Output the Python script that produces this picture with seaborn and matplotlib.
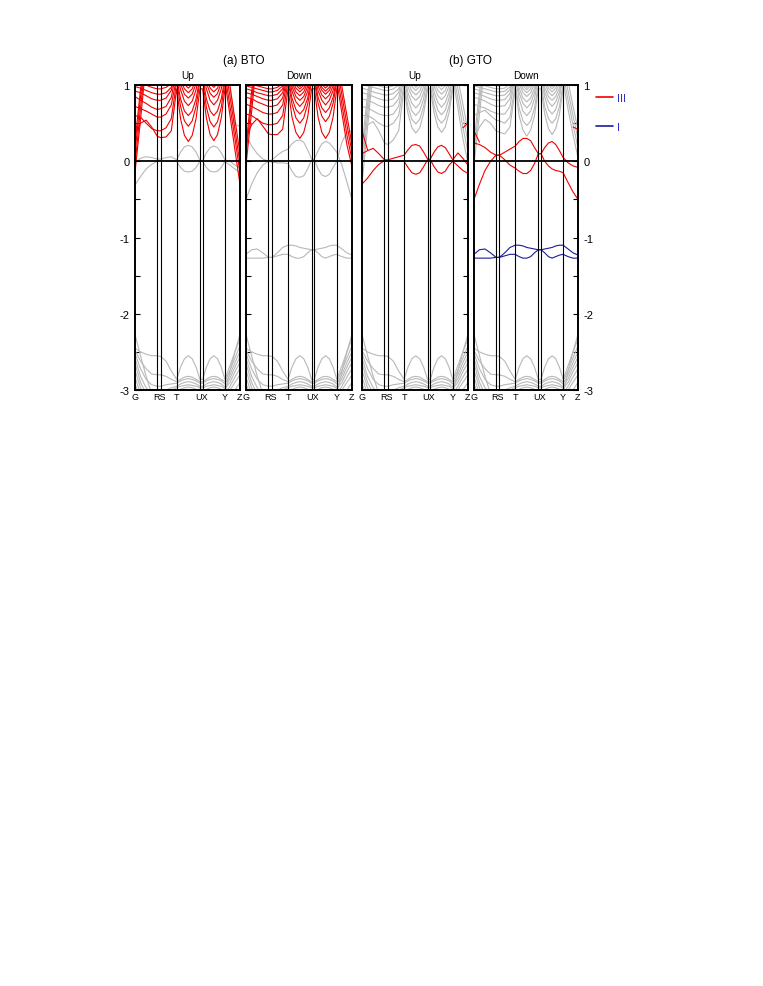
import numpy as np
import matplotlib
matplotlib.use('Agg')
import matplotlib.pyplot as plt
from matplotlib.lines import Line2D
import seaborn as sns

nan = np.nan

# k-path (fraction of path length) and high-symmetry points
k_path = [0.0, 0.053, 0.106, 0.159, 0.212, 0.245, 0.296, 0.346, 0.397,
          0.434, 0.471, 0.508, 0.545, 0.582, 0.619, 0.645, 0.680, 0.716,
          0.751, 0.786, 0.822, 0.857, 0.905, 0.952, 1.0]
k_sym = [0.212, 0.245, 0.397, 0.619, 0.645, 0.857]
k_tick_pos = [0.0, 0.229, 0.397, 0.632, 0.857, 1.0]
k_tick_lab = ['G', 'RS', 'T', 'UX', 'Y', 'Z']

# band energies (eV) at each k_path point
# order of a row: G-R(5) S S-T(2) T T-U(5) U X X-Y(5) Y Y-Z(2) Z

# (a) BTO spin up
bto_up_iii = [
    [-0.15, 0.55, 1.3, 1.4, 1.4, 1.4, 1.4, 1.4, 1.4, 1.4, 1.4, 1.4, 1.4, 1.4, 1.4, 1.4, 1.4, 1.4, 1.4, 1.4, 1.4, 1.05, 0.6, 0.15, -0.3],
    [-0.05, 0.7, 1.4, 1.4, 1.4, 1.4, 1.4, 1.4, 1.4, 1.4, 1.4, 1.4, 1.4, 1.4, 1.4, 1.4, 1.4, 1.4, 1.4, 1.4, 1.4, 1.15, 0.72, 0.3, -0.15],
    [0.1, 0.85, 1.4, 1.4, 1.4, 1.4, 1.4, 1.4, 1.4, 1.4, 1.4, 1.4, 1.4, 1.4, 1.4, 1.4, 1.4, 1.4, 1.4, 1.4, 1.4, 1.25, 0.85, 0.42, -0.03],
    [0.25, 0.95, 1.4, 1.4, 1.4, 1.4, 1.4, 1.4, 1.4, 1.4, 1.4, 1.4, 1.4, 1.4, 1.4, 1.4, 1.4, 1.4, 1.4, 1.4, 1.4, 1.35, 0.98, 0.55, 0.1],
    [0.35, 0.5, 0.54, 0.45, 0.33, 0.31, 0.32, 0.4, 0.95, 0.56, 0.34, 0.26, 0.34, 0.56, 0.95, 0.95, 0.57, 0.35, 0.27, 0.35, 0.57, 0.95, 1.2, 1.4, 1.4],
    [0.6, 0.58, 0.5, 0.43, 0.4, 0.4, 0.44, 0.56, 1.05, 0.72, 0.53, 0.46, 0.53, 0.72, 1.05, 1.05, 0.71, 0.52, 0.45, 0.52, 0.71, 1.05, 1.3, 1.4, 1.4],
    [0.72, 0.69, 0.66, 0.62, 0.58, 0.58, 0.62, 0.74, 1.1, 0.82, 0.66, 0.6, 0.66, 0.82, 1.1, 1.1, 0.82, 0.66, 0.6, 0.66, 0.82, 1.1, 1.4, 1.4, 1.4],
    [0.85, 0.8, 0.76, 0.71, 0.68, 0.69, 0.72, 0.84, 1.2, 0.94, 0.79, 0.73, 0.79, 0.94, 1.2, 1.2, 0.95, 0.8, 0.74, 0.8, 0.95, 1.2, 1.4, 1.4, 1.4],
    [0.92, 0.9, 0.86, 0.82, 0.8, 0.8, 0.83, 0.93, 1.25, 1.02, 0.88, 0.83, 0.88, 1.02, 1.25, 1.25, 1.03, 0.89, 0.84, 0.89, 1.03, 1.25, 1.4, 1.4, 1.4],
    [0.98, 0.96, 0.93, 0.9, 0.88, 0.88, 0.9, 0.97, 1.3, 1.08, 0.95, 0.9, 0.95, 1.08, 1.3, 1.3, 1.09, 0.96, 0.91, 0.96, 1.09, 1.3, 1.4, 1.4, 1.4],
    [1.05, 1.03, 1.0, 0.97, 0.95, 0.95, 0.97, 1.02, 1.35, 1.13, 1.01, 0.96, 1.01, 1.13, 1.35, 1.35, 1.14, 1.02, 0.97, 1.02, 1.14, 1.35, 1.4, 1.4, 1.4],
]
bto_up_gray = [
    [-0.02, 0.04, 0.06, 0.05, 0.03, 0.03, 0.05, 0.06, 0.02, 0.12, 0.19, 0.21, 0.19, 0.12, 0.01, 0.01, 0.11, 0.18, 0.2, 0.18, 0.11, 0.02, 0.0, -0.05, -0.08],
    [-0.31, -0.2, -0.1, -0.04, 0.0, 0.0, 0.0, 0.0, 0.0, -0.08, -0.13, -0.14, -0.13, -0.08, 0.0, 0.0, -0.08, -0.13, -0.14, -0.13, -0.08, 0.0, -0.05, -0.1, -0.15],
    [1.4, 1.4, 1.4, 1.4, 1.4, 1.4, 1.4, 1.4, 1.4, 1.4, 1.4, 1.4, 1.4, 1.4, 1.4, 1.4, 1.4, 1.4, 1.4, 1.4, 1.4, 1.4, 1.0, 0.48, 0.46],
]

# (a) BTO spin down
bto_dn_iii = [
    [-0.05, 0.65, 1.4, 1.4, 1.4, 1.4, 1.4, 1.4, 1.4, 1.4, 1.4, 1.4, 1.4, 1.4, 1.4, 1.4, 1.4, 1.4, 1.4, 1.4, 1.4, 1.05, 0.63, 0.22, -0.07],
    [0.08, 0.8, 1.4, 1.4, 1.4, 1.4, 1.4, 1.4, 1.4, 1.4, 1.4, 1.4, 1.4, 1.4, 1.4, 1.4, 1.4, 1.4, 1.4, 1.4, 1.4, 1.15, 0.75, 0.35, 0.02],
    [0.2, 0.92, 1.4, 1.4, 1.4, 1.4, 1.4, 1.4, 1.4, 1.4, 1.4, 1.4, 1.4, 1.4, 1.4, 1.4, 1.4, 1.4, 1.4, 1.4, 1.4, 1.25, 0.87, 0.48, 0.12],
    [1.4, 1.4, 1.4, 1.4, 1.4, 1.4, 1.4, 1.4, 1.4, 1.4, 1.4, 1.4, 1.4, 1.4, 1.4, 1.4, 1.4, 1.4, 1.4, 1.4, 1.4, 1.35, 0.98, 0.6, 0.22],
    [0.3, 0.48, 0.56, 0.46, 0.36, 0.35, 0.35, 0.42, 0.95, 0.58, 0.38, 0.3, 0.38, 0.58, 0.95, 0.95, 0.58, 0.38, 0.3, 0.38, 0.58, 0.95, 1.2, 1.4, 1.4],
    [0.62, 0.6, 0.55, 0.5, 0.48, 0.48, 0.5, 0.6, 1.05, 0.75, 0.57, 0.5, 0.57, 0.75, 1.05, 1.05, 0.76, 0.59, 0.52, 0.59, 0.76, 1.05, 1.3, 1.4, 1.4],
    [0.75, 0.72, 0.68, 0.64, 0.62, 0.62, 0.64, 0.74, 1.1, 0.83, 0.68, 0.62, 0.68, 0.83, 1.1, 1.1, 0.84, 0.7, 0.64, 0.7, 0.84, 1.1, 1.4, 1.4, 1.4],
    [0.84, 0.82, 0.78, 0.75, 0.72, 0.72, 0.74, 0.83, 1.15, 0.92, 0.78, 0.72, 0.78, 0.92, 1.15, 1.15, 0.93, 0.8, 0.74, 0.8, 0.93, 1.15, 1.4, 1.4, 1.4],
    [0.9, 0.88, 0.85, 0.82, 0.8, 0.8, 0.82, 0.9, 1.2, 0.98, 0.85, 0.8, 0.85, 0.98, 1.2, 1.2, 0.99, 0.87, 0.82, 0.87, 0.99, 1.2, 1.4, 1.4, 1.4],
    [0.95, 0.93, 0.9, 0.88, 0.86, 0.86, 0.88, 0.95, 1.25, 1.03, 0.91, 0.86, 0.91, 1.03, 1.25, 1.25, 1.04, 0.93, 0.88, 0.93, 1.04, 1.25, 1.4, 1.4, 1.4],
    [0.99, 0.97, 0.95, 0.93, 0.91, 0.91, 0.93, 0.99, 1.3, 1.08, 0.96, 0.91, 0.96, 1.08, 1.3, 1.3, 1.09, 0.97, 0.92, 0.97, 1.09, 1.3, 1.4, 1.4, 1.4],
    [1.03, 1.01, 0.99, 0.97, 0.95, 0.95, 0.97, 1.02, 1.35, 1.12, 1.0, 0.95, 1.0, 1.12, 1.35, 1.35, 1.13, 1.01, 0.96, 1.01, 1.13, 1.35, 1.4, 1.4, 1.4],
    [1.06, 1.05, 1.03, 1.01, 1.0, 1.0, 1.01, 1.05, 1.4, 1.15, 1.03, 0.98, 1.03, 1.15, 1.4, 1.4, 1.16, 1.04, 0.99, 1.04, 1.16, 1.4, 1.4, 1.4, 1.4],
]
bto_dn_gray = [
    [-0.5, -0.3, -0.15, -0.05, 0.0, 0.02, 0.08, 0.13, 0.16, 0.23, 0.27, 0.28, 0.25, 0.15, 0.03, 0.03, 0.14, 0.23, 0.26, 0.24, 0.18, 0.12, -0.05, -0.27, -0.5],
    [0.35, 0.2, 0.1, 0.03, 0.0, -0.01, -0.02, -0.02, -0.03, -0.13, -0.2, -0.21, -0.19, -0.1, 0.02, 0.02, -0.1, -0.18, -0.2, -0.17, -0.08, 0.0, 0.25, 0.38, 0.4],
]

# (b) GTO spin up
gto_up_gray = [
    [-0.3, 0.45, 1.2, 1.4, 1.4, 1.4, 1.4, 1.4, 1.4, 1.4, 1.4, 1.4, 1.4, 1.4, 1.4, 1.4, 1.4, 1.4, 1.4, 1.4, 1.4, 1.1, 0.7, 0.3, -0.02],
    [-0.12, 0.6, 1.35, 1.4, 1.4, 1.4, 1.4, 1.4, 1.4, 1.4, 1.4, 1.4, 1.4, 1.4, 1.4, 1.4, 1.4, 1.4, 1.4, 1.4, 1.4, 1.2, 0.82, 0.45, 0.12],
    [0.05, 0.75, 1.4, 1.4, 1.4, 1.4, 1.4, 1.4, 1.4, 1.4, 1.4, 1.4, 1.4, 1.4, 1.4, 1.4, 1.4, 1.4, 1.4, 1.4, 1.4, 1.3, 0.95, 0.6, 0.26],
    [0.2, 0.88, 1.4, 1.4, 1.4, 1.4, 1.4, 1.4, 1.4, 1.4, 1.4, 1.4, 1.4, 1.4, 1.4, 1.4, 1.4, 1.4, 1.4, 1.4, 1.4, 1.4, 1.08, 0.75, 0.4],
    [0.34, 0.48, 0.52, 0.4, 0.24, 0.22, 0.28, 0.4, 0.95, 0.63, 0.44, 0.37, 0.44, 0.63, 0.95, 0.95, 0.64, 0.45, 0.38, 0.45, 0.64, 0.95, 1.2, 1.4, 1.4],
    [0.6, 0.6, 0.56, 0.5, 0.46, 0.46, 0.5, 0.6, 1.0, 0.72, 0.55, 0.49, 0.55, 0.72, 1.0, 1.0, 0.73, 0.56, 0.5, 0.56, 0.73, 1.0, 1.3, 1.4, 1.4],
    [0.72, 0.7, 0.66, 0.62, 0.6, 0.6, 0.62, 0.72, 1.1, 0.82, 0.66, 0.6, 0.66, 0.82, 1.1, 1.1, 0.83, 0.67, 0.61, 0.67, 0.83, 1.1, 1.4, 1.4, 1.4],
    [0.82, 0.8, 0.77, 0.73, 0.71, 0.71, 0.73, 0.82, 1.15, 0.9, 0.76, 0.7, 0.76, 0.9, 1.15, 1.15, 0.91, 0.77, 0.71, 0.77, 0.91, 1.15, 1.4, 1.4, 1.4],
    [0.9, 0.88, 0.85, 0.82, 0.8, 0.8, 0.82, 0.9, 1.2, 0.98, 0.85, 0.8, 0.85, 0.98, 1.2, 1.2, 0.99, 0.86, 0.81, 0.86, 0.99, 1.2, 1.4, 1.4, 1.4],
    [0.96, 0.94, 0.91, 0.89, 0.87, 0.87, 0.89, 0.95, 1.25, 1.04, 0.92, 0.87, 0.92, 1.04, 1.25, 1.25, 1.05, 0.93, 0.88, 0.93, 1.05, 1.25, 1.4, 1.4, 1.4],
    [1.0, 0.99, 0.97, 0.95, 0.93, 0.93, 0.95, 1.0, 1.3, 1.1, 0.98, 0.93, 0.98, 1.1, 1.3, 1.3, 1.11, 0.99, 0.94, 0.99, 1.11, 1.3, 1.4, 1.4, 1.4],
    [1.05, 1.03, 1.01, 0.99, 0.97, 0.97, 0.99, 1.04, 1.35, 1.14, 1.02, 0.97, 1.02, 1.14, 1.35, 1.35, 1.15, 1.03, 0.98, 1.03, 1.15, 1.35, 1.4, 1.4, 1.4],
]
gto_up_iii = [
    [0.1, 0.14, 0.17, 0.1, 0.02, 0.02, 0.04, 0.06, 0.08, 0.15, 0.21, 0.22, 0.2, 0.12, 0.03, 0.03, 0.12, 0.19, 0.21, 0.18, 0.1, 0.02, 0.11, 0.04, -0.05],
    [-0.3, -0.22, -0.12, -0.04, 0.01, 0.01, 0.0, 0.0, 0.0, -0.08, -0.15, -0.17, -0.15, -0.07, 0.02, 0.02, -0.07, -0.14, -0.16, -0.13, -0.05, 0.0, -0.06, -0.12, -0.16],
    [0.4, 0.15, nan, nan, nan, nan, nan, nan, nan, nan, nan, nan, nan, nan, nan, nan, nan, nan, nan, nan, nan, nan, nan, nan, nan],
    [nan, nan, nan, nan, nan, nan, nan, nan, nan, nan, nan, nan, nan, nan, nan, nan, nan, nan, nan, nan, nan, nan, nan, 0.44, 0.5],
]

# (b) GTO spin down
gto_dn_gray = [
    [-0.05, 0.62, 1.3, 1.4, 1.4, 1.4, 1.4, 1.4, 1.4, 1.4, 1.4, 1.4, 1.4, 1.4, 1.4, 1.4, 1.4, 1.4, 1.4, 1.4, 1.4, 1.05, 0.68, 0.35, 0.05],
    [0.1, 0.78, 1.4, 1.4, 1.4, 1.4, 1.4, 1.4, 1.4, 1.4, 1.4, 1.4, 1.4, 1.4, 1.4, 1.4, 1.4, 1.4, 1.4, 1.4, 1.4, 1.15, 0.8, 0.48, 0.18],
    [0.25, 0.92, 1.4, 1.4, 1.4, 1.4, 1.4, 1.4, 1.4, 1.4, 1.4, 1.4, 1.4, 1.4, 1.4, 1.4, 1.4, 1.4, 1.4, 1.4, 1.4, 1.25, 0.92, 0.6, 0.3],
    [1.4, 1.4, 1.4, 1.4, 1.4, 1.4, 1.4, 1.4, 1.4, 1.4, 1.4, 1.4, 1.4, 1.4, 1.4, 1.4, 1.4, 1.4, 1.4, 1.4, 1.4, 1.35, 1.05, 0.72, 0.42],
    [0.3, 0.45, 0.55, 0.5, 0.4, 0.38, 0.36, 0.45, 0.95, 0.6, 0.41, 0.33, 0.41, 0.6, 0.95, 0.95, 0.62, 0.43, 0.35, 0.43, 0.62, 0.95, 1.2, 1.4, 1.4],
    [0.6, 0.64, 0.67, 0.6, 0.54, 0.53, 0.5, 0.58, 1.0, 0.7, 0.53, 0.47, 0.53, 0.7, 1.0, 1.0, 0.72, 0.56, 0.5, 0.56, 0.72, 1.0, 1.3, 1.4, 1.4],
    [0.75, 0.72, 0.7, 0.66, 0.63, 0.62, 0.62, 0.72, 1.1, 0.82, 0.66, 0.6, 0.66, 0.82, 1.1, 1.1, 0.84, 0.68, 0.62, 0.68, 0.84, 1.1, 1.4, 1.4, 1.4],
    [0.84, 0.82, 0.79, 0.75, 0.72, 0.72, 0.73, 0.82, 1.15, 0.9, 0.76, 0.7, 0.76, 0.9, 1.15, 1.15, 0.91, 0.78, 0.72, 0.78, 0.91, 1.15, 1.4, 1.4, 1.4],
    [0.9, 0.88, 0.85, 0.82, 0.8, 0.8, 0.81, 0.89, 1.2, 0.96, 0.83, 0.78, 0.83, 0.96, 1.2, 1.2, 0.97, 0.85, 0.8, 0.85, 0.97, 1.2, 1.4, 1.4, 1.4],
    [0.95, 0.93, 0.9, 0.88, 0.86, 0.86, 0.87, 0.94, 1.25, 1.02, 0.9, 0.85, 0.9, 1.02, 1.25, 1.25, 1.03, 0.91, 0.86, 0.91, 1.03, 1.25, 1.4, 1.4, 1.4],
    [0.99, 0.97, 0.95, 0.93, 0.91, 0.91, 0.92, 0.98, 1.3, 1.07, 0.95, 0.9, 0.95, 1.07, 1.3, 1.3, 1.08, 0.96, 0.91, 0.96, 1.08, 1.3, 1.4, 1.4, 1.4],
    [1.03, 1.01, 0.99, 0.97, 0.95, 0.95, 0.96, 1.02, 1.35, 1.11, 0.99, 0.94, 0.99, 1.11, 1.35, 1.35, 1.12, 1.0, 0.95, 1.0, 1.12, 1.35, 1.4, 1.4, 1.4],
    [1.06, 1.05, 1.03, 1.01, 0.99, 0.99, 1.0, 1.05, 1.4, 1.14, 1.02, 0.97, 1.02, 1.14, 1.4, 1.4, 1.15, 1.03, 0.98, 1.03, 1.15, 1.4, 1.4, 1.4, 1.4],
]
gto_dn_iii = [
    [0.24, 0.22, 0.18, 0.12, 0.08, 0.08, 0.12, 0.16, 0.2, 0.26, 0.3, 0.3, 0.27, 0.18, 0.1, 0.1, 0.18, 0.24, 0.26, 0.22, 0.14, 0.05, -0.02, -0.06, -0.08],
    [-0.5, -0.3, -0.12, 0.0, 0.08, 0.08, 0.02, -0.05, -0.09, -0.13, -0.16, -0.16, -0.12, -0.03, 0.1, 0.1, 0.0, -0.06, -0.1, -0.12, -0.13, -0.15, -0.28, -0.4, -0.5],
    [0.4, 0.25, nan, nan, nan, nan, nan, nan, nan, nan, nan, nan, nan, nan, nan, nan, nan, nan, nan, nan, nan, nan, nan, nan, nan],
    [nan, nan, nan, nan, nan, nan, nan, nan, nan, nan, nan, nan, nan, nan, nan, nan, nan, nan, nan, nan, nan, nan, nan, 0.45, 0.42],
]

# narrow bands near -1.2 eV (gray in BTO down, "I" in GTO down)
flat_bands = [
    [-1.22, -1.16, -1.15, -1.2, -1.26, -1.26, -1.2, -1.13, -1.1, -1.1, -1.11, -1.13, -1.14, -1.15, -1.16, -1.16, -1.15, -1.14, -1.13, -1.11, -1.1, -1.1, -1.15, -1.2, -1.23],
    [-1.27, -1.27, -1.27, -1.27, -1.26, -1.26, -1.24, -1.22, -1.22, -1.25, -1.27, -1.27, -1.25, -1.2, -1.16, -1.16, -1.2, -1.25, -1.27, -1.25, -1.23, -1.22, -1.25, -1.27, -1.27],
]

# deep valence bands (same in all panels)
deep_bands = [
    [-2.27, -2.55, -2.82, -3.05, -3.1, -3.1, -3.1, -3.1, -3.1, -3.1, -3.1, -3.1, -3.1, -3.1, -3.1, -3.1, -3.1, -3.1, -3.1, -3.1, -3.1, -3.05, -2.75, -2.5, -2.27],
    [-2.45, -2.5, -2.53, -2.55, -2.55, -2.56, -2.62, -2.75, -2.86, -2.7, -2.59, -2.55, -2.59, -2.7, -2.86, -2.86, -2.7, -2.59, -2.55, -2.59, -2.7, -2.86, -2.68, -2.5, -2.33],
    [-2.48, -2.62, -2.72, -2.79, -2.8, -2.8, -2.82, -2.86, -2.89, -2.86, -2.83, -2.82, -2.83, -2.86, -2.89, -2.89, -2.86, -2.83, -2.82, -2.83, -2.86, -2.89, -2.74, -2.58, -2.42],
    [-2.52, -2.72, -2.86, -2.93, -2.95, -2.95, -2.93, -2.92, -2.91, -2.88, -2.86, -2.85, -2.86, -2.88, -2.91, -2.91, -2.88, -2.86, -2.85, -2.86, -2.88, -2.92, -2.8, -2.64, -2.5],
    [-2.58, -2.82, -2.97, -3.05, -3.05, -3.05, -3.0, -2.97, -2.95, -2.92, -2.9, -2.89, -2.9, -2.92, -2.95, -2.95, -2.92, -2.9, -2.89, -2.9, -2.92, -2.96, -2.85, -2.7, -2.57],
    [-2.65, -2.9, -3.05, -3.1, -3.1, -3.1, -3.05, -3.0, -2.97, -2.95, -2.94, -2.93, -2.94, -2.95, -2.97, -2.97, -2.95, -2.94, -2.93, -2.94, -2.95, -2.98, -2.9, -2.76, -2.64],
    [-2.74, -2.97, -3.1, -3.1, -3.1, -3.1, -3.1, -3.05, -3.02, -2.99, -2.97, -2.96, -2.97, -2.99, -3.02, -3.02, -2.99, -2.97, -2.96, -2.97, -2.99, -3.05, -2.95, -2.83, -2.72],
    [-2.83, -3.05, -3.1, -3.1, -3.1, -3.1, -3.1, -3.1, -3.1, -3.1, -3.1, -3.1, -3.1, -3.1, -3.1, -3.1, -3.1, -3.1, -3.1, -3.1, -3.1, -3.1, -3.0, -2.9, -2.8],
    [-2.92, -3.1, -3.1, -3.1, -3.1, -3.1, -3.1, -3.1, -3.1, -3.1, -3.1, -3.1, -3.1, -3.1, -3.1, -3.1, -3.1, -3.1, -3.1, -3.1, -3.1, -3.1, -3.1, -3.0, -2.9],
]

GRAY = '#b8b8b8'
RED = '#f20000'
BLUE = '#1c1c9a'

sns.set_style('ticks')
plt.rcParams['font.family'] = ['Liberation Sans', 'DejaVu Sans']
plt.rcParams['text.color'] = 'black'
plt.rcParams['xtick.color'] = 'black'
plt.rcParams['ytick.color'] = 'black'
plt.rcParams['axes.labelcolor'] = 'black'


def draw_bands(ax, bands, color, lw=0.8):
    for b in bands:
        sns.lineplot(x=k_path, y=b, ax=ax, color=color, lw=lw,
                     sort=False, estimator=None, legend=False)


fig = plt.figure(figsize=(7.63, 9.87), dpi=100)

# panel rectangles in figure fraction
rects = [(0.1769, 0.6038, 0.1376, 0.3090),
         (0.3224, 0.6038, 0.1389, 0.3090),
         (0.4744, 0.6038, 0.1389, 0.3090),
         (0.6212, 0.6038, 0.1363, 0.3090)]
panels = [
    ('Up', [deep_bands, bto_up_gray], [bto_up_iii], []),
    ('Down', [deep_bands, flat_bands, bto_dn_gray], [bto_dn_iii], []),
    ('Up', [deep_bands, gto_up_gray], [gto_up_iii], []),
    ('Down', [deep_bands, gto_dn_gray], [gto_dn_iii], [flat_bands]),
]

axes = []
for i, (rect, (title, grays, reds, blues)) in enumerate(zip(rects, panels)):
    ax = fig.add_axes(rect)
    for g in grays:
        draw_bands(ax, g, GRAY)
    for r in reds:
        draw_bands(ax, r, RED)
    for b in blues:
        draw_bands(ax, b, BLUE)
    for ks in k_sym:
        ax.axvline(ks, color='black', lw=0.8, zorder=3)
    ax.axhline(0, color='black', lw=1.3, zorder=3)
    ax.set_xlim(0, 1)
    ax.set_ylim(-3, 1)
    ax.set_xlabel('')
    ax.set_ylabel('')
    ax.set_xticks(k_tick_pos)
    ax.set_xticklabels(k_tick_lab)
    ax.tick_params(axis='x', length=0, pad=1.5, labelsize=6.5)
    ax.set_yticks([-3, -2, -1, 0, 1])
    ax.set_yticks([-2.5, -1.5, -0.5, 0.5], minor=True)
    ax.set_yticklabels(['-3', '-2', '-1', '0', '1'])
    ax.tick_params(axis='y', which='major', direction='in', length=3.5,
                   width=0.8, labelsize=8, pad=4)
    ax.tick_params(axis='y', which='minor', direction='in', length=3.5,
                   width=0.8)
    if i >= 2:
        ax.yaxis.tick_right()
    if i in (1, 2):
        ax.tick_params(axis='y', which='both', labelleft=False, labelright=False)
    for sp in ax.spines.values():
        sp.set_visible(True)
        sp.set_linewidth(1.4)
        sp.set_color('black')
        sp.set_zorder(4)
    ax.set_title(title, fontsize=7.2, pad=5)
    axes.append(ax)

fig.text(243.5 / 763, 1 - 61 / 987, '(a) BTO', ha='center', va='center', fontsize=8.5)
fig.text(470 / 763, 1 - 61 / 987, '(b) GTO', ha='center', va='center', fontsize=8.5)

handles = [Line2D([], [], color=RED, lw=1.2), Line2D([], [], color=BLUE, lw=1.2)]
axes[3].legend(handles, ['III', 'I'], loc='upper left', bbox_to_anchor=(1.1, 1.0),
               frameon=False, fontsize=8, handlelength=1.5, handletextpad=0.4,
               labelspacing=1.75, labelcolor='#3030c8', borderaxespad=0.3)

fig.savefig('out.png', dpi=100)
